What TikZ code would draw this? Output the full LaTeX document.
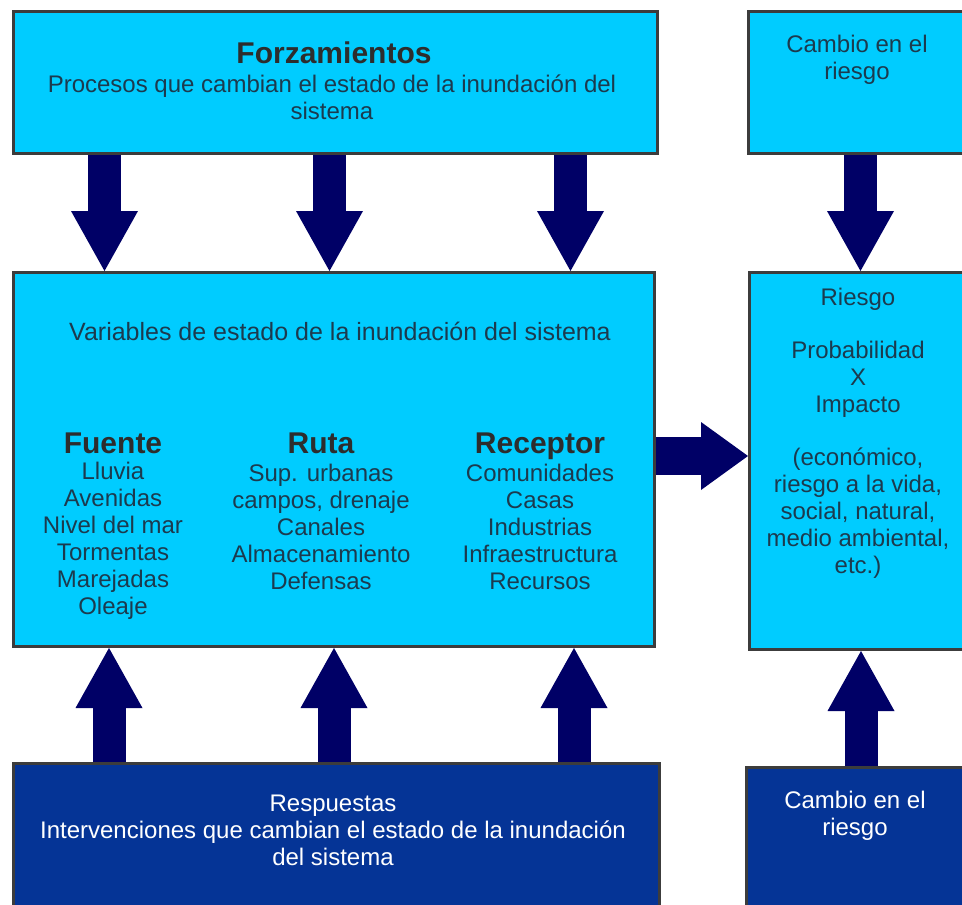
\documentclass[tikz,border=0pt]{standalone}
\usepackage{fontspec}
\setmainfont{Liberation Sans}
\usetikzlibrary{arrows.meta,calc}
\definecolor{lightc}{RGB}{0,204,255}
\definecolor{darkc}{RGB}{5,52,150}
\definecolor{edgec}{RGB}{60,60,60}
\definecolor{arrc}{RGB}{0,0,102}
\definecolor{txtc}{RGB}{28,58,78}
\definecolor{boldc}{RGB}{45,45,45}
\begin{document}
\begin{tikzpicture}[x=1pt,y=-1pt,
  lbox/.style={draw=edgec,line width=3pt,fill=lightc,anchor=north west,inner sep=0pt},
  dbox/.style={draw=edgec,line width=3pt,fill=darkc,anchor=north west,inner sep=0pt},
  reg/.style={font=\fontsize{24}{27}\selectfont,text=txtc,align=center,inner sep=0pt},
  wreg/.style={font=\fontsize{24}{27}\selectfont,text=white,align=center,inner sep=0pt},
  ttl/.style={font=\fontsize{30}{33}\selectfont\bfseries,text=boldc,inner sep=0pt,anchor=base},
  vbig/.style={draw=arrc,line width=33pt,arrows={-Triangle[width=67pt,length=60pt,line width=0pt]}},
  hbig/.style={draw=arrc,line width=38pt,arrows={-Triangle[width=68pt,length=47pt,line width=0pt]}}]
\useasboundingbox (0,0) rectangle (962,905);
\fill[white] (0,0) rectangle (962,905);
\clip (0,0) rectangle (962,905);

% boxes
\node[lbox,minimum width=644pt,minimum height=142pt] (forz) at (12,10) {};
\node[lbox,minimum width=230pt,minimum height=142pt] (cr1) at (747,10) {};
\node[lbox,minimum width=641pt,minimum height=374pt] (state) at (12,271) {};
\node[lbox,minimum width=230pt,minimum height=377pt] (risk) at (748,271) {};
\node[dbox,minimum width=646pt,minimum height=160pt] (resp) at (12,762) {};
\node[dbox,minimum width=232pt,minimum height=160pt] (cr2) at (745,766) {};

% x positions of arrows
\coordinate (d1) at (104.5,0);
\coordinate (d2) at (329.5,0);
\coordinate (d3) at (570.5,0);
\coordinate (dr) at (860.5,0);
\coordinate (u1) at (109,0);
\coordinate (u2) at (334,0);
\coordinate (u3) at (574,0);
\coordinate (ur) at (861,0);
\coordinate (hy) at (0,456);

% arrows
\draw[vbig] (forz.south -| d1) -- (state.north -| d1);
\draw[vbig] (forz.south -| d2) -- (state.north -| d2);
\draw[vbig] (forz.south -| d3) -- (state.north -| d3);
\draw[vbig] (cr1.south -| dr) -- (risk.north -| dr);
\draw[vbig] (resp.north -| u1) -- (state.south -| u1);
\draw[vbig] (resp.north -| u2) -- (state.south -| u2);
\draw[vbig] (resp.north -| u3) -- (state.south -| u3);
\draw[vbig] (cr2.north -| ur) -- (risk.south -| ur);
\draw[hbig] (state.east |- hy) -- (risk.west |- hy);

% texts
\node[ttl] (tforz) at (334,63) {Forzamientos};
\node[reg] (tproc) at (332,97.5) {Procesos que cambian el estado de la inundación del\\sistema};
\node[reg] (tcr1) at (857,59.5) {Cambio en el\\riesgo};
\node[reg,font=\fontsize{25}{27}\selectfont] (tvar) at (340,331) {Variables de estado de la inundación del sistema};

\node[ttl] (tfu) at (113,453) {Fuente};
\node[ttl] (tru) at (321,453) {Ruta};
\node[ttl] (tre) at (540,453) {Receptor};
\node[reg] (lfu) at (113,540.5) {Lluvia\\Avenidas\\Nivel del mar\\Tormentas\\Marejadas\\Oleaje};
\node[reg] (lru) at (321,527) {Sup. urbanas\\campos, drenaje\\Canales\\Almacenamiento\\Defensas};
\node[reg] (lre) at (540,527) {Comunidades\\Casas\\Industrias\\Infraestructura\\Recursos};

\node[reg] (trisk) at (858,433) {Riesgo\\[26pt]Probabilidad\\X\\Impacto\\[26pt](económico,\\riesgo a la vida,\\social, natural,\\medio ambiental,\\etc.)};

\node[wreg] (tresp) at (333,830) {Respuestas\\Intervenciones que cambian el estado de la inundación\\del sistema};
\node[wreg] (tcr2) at (855,815.5) {Cambio en el\\riesgo};
\end{tikzpicture}
\end{document}
